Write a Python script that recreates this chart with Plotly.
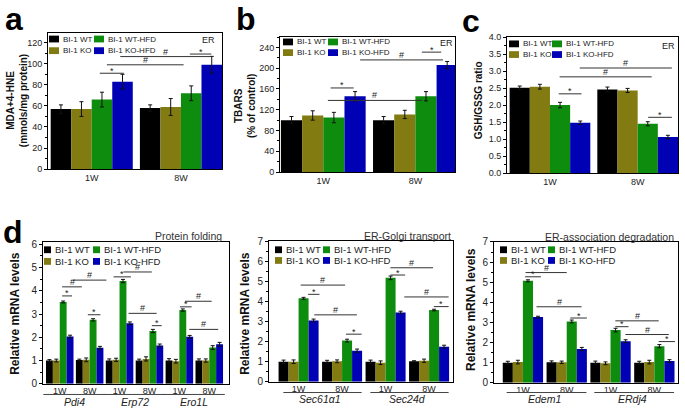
import plotly.graph_objects as go

W, H = 685, 416
FONT = "Arial, Liberation Sans, sans-serif"
SERIES = ["BI-1 WT", "BI-1 KO", "BI-1 WT-HFD", "BI-1 KO-HFD"]
COLORS = ["#000000", "#817b12", "#0d8c0d", "#0000b5"]

# ---------------- data ----------------
# Panel a: MDA+4-HNE (mmols/mg protein)
A_LABELS = ["1W", "8W"]
A_WT = [57, 58];      A_WT_ERR = [4, 3]
A_KO = [57, 59];      A_KO_ERR = [7, 8]
A_WTHFD = [66, 72];   A_WTHFD_ERR = [7, 7]
A_KOHFD = [83, 99];   A_KOHFD_ERR = [7, 8]

# Panel b: TBARS (% of control)
B_LABELS = ["1W", "8W"]
B_WT = [100, 100];    B_WT_ERR = [7, 7]
B_KO = [109, 111];    B_KO_ERR = [9, 8]
B_WTHFD = [105, 146]; B_WTHFD_ERR = [10, 9]
B_KOHFD = [146, 206]; B_KOHFD_ERR = [9, 7]

# Panel c: GSH/GSSG ratio
C_LABELS = ["1W", "8W"]
C_WT = [2.51, 2.46];    C_WT_ERR = [0.05, 0.07]
C_KO = [2.54, 2.43];    C_KO_ERR = [0.07, 0.06]
C_WTHFD = [2.00, 1.45]; C_WTHFD_ERR = [0.08, 0.06]
C_KOHFD = [1.48, 1.06]; C_KOHFD_ERR = [0.05, 0.05]

# Panel d: Protein folding (Pdi4, Erp72, Ero1L)
D_LABELS = ["1W", "8W", "1W", "8W", "1W", "8W"]
D_GENES = ["Pdi4", "Erp72", "Ero1L"]
D_WT = [1.00, 1.02, 1.00, 1.00, 1.00, 1.00]
D_WT_ERR = [0.04, 0.04, 0.07, 0.06, 0.08, 0.07]
D_KO = [1.00, 1.03, 1.03, 1.07, 0.97, 1.00]
D_KO_ERR = [0.06, 0.08, 0.07, 0.09, 0.08, 0.07]
D_WTHFD = [3.52, 2.75, 4.42, 2.27, 3.17, 1.56]
D_WTHFD_ERR = [0.04, 0.05, 0.07, 0.07, 0.05, 0.08]
D_KOHFD = [2.03, 1.55, 2.60, 1.65, 2.02, 1.70]
D_KOHFD_ERR = [0.06, 0.06, 0.06, 0.06, 0.06, 0.08]

# Panel e: ER-Golgi transport (Sec61a1, Sec24d)
E_LABELS = ["1W", "8W", "1W", "8W"]
E_GENES = ["Sec61α1", "Sec24d"]
E_WT = [1.00, 1.00, 1.00, 1.02];    E_WT_ERR = [0.08, 0.07, 0.08, 0.03]
E_KO = [1.00, 1.02, 0.95, 1.05];    E_KO_ERR = [0.09, 0.07, 0.09, 0.08]
E_WTHFD = [4.15, 2.05, 5.17, 3.57]; E_WTHFD_ERR = [0.05, 0.07, 0.09, 0.04]
E_KOHFD = [3.05, 1.55, 3.45, 1.75]; E_KOHFD_ERR = [0.07, 0.08, 0.06, 0.07]

# Panel f: ER-association degradation (Edem1, ERdj4)
F_LABELS = ["1W", "8W", "1W", "8W"]
F_GENES = ["Edem1", "ERdj4"]
F_WT = [1.00, 1.02, 1.00, 1.00];    F_WT_ERR = [0.07, 0.07, 0.08, 0.07]
F_KO = [1.03, 1.02, 0.97, 1.03];    F_KO_ERR = [0.09, 0.06, 0.07, 0.09]
F_WTHFD = [5.07, 3.05, 2.62, 1.82]; F_WTHFD_ERR = [0.05, 0.07, 0.09, 0.08]
F_KOHFD = [3.27, 1.68, 2.07, 1.08]; F_KOHFD_ERR = [0.04, 0.08, 0.07, 0.07]

# significance marks: (symbol, x-start, x-end, height) in category units / data units
A_SIG = [("*", 0.09, 0.36, 91), ("#", 0.17, 1.03, 99), ("#", 0.32, 1.33, 106.8), ("*", 1.10, 1.34, 109.2)]
B_SIG = [("*", 0.08, 0.33, 162), ("#", 0.05, 1.07, 138), ("#", 0.40, 1.30, 216), ("*", 1.07, 1.28, 231)]
C_SIG = [("*", 0.10, 0.36, 2.33), ("#", 0.11, 1.16, 2.83), ("#", 0.34, 1.39, 3.09), ("*", 1.12, 1.39, 1.64)]
D_SIG = [("*", 0.08, 0.41, 3.78), ("#", 0.08, 0.74, 4.17), ("#", 0.44, 1.56, 4.46), ("*", 0.94, 1.36, 2.97),
         ("*", 1.80, 2.38, 4.60), ("#", 2.13, 3.08, 4.81), ("#", 2.30, 3.24, 3.03), ("*", 3.08, 3.41, 2.50),
         ("*", 4.02, 4.41, 3.31), ("#", 4.19, 5.08, 3.55), ("#", 4.33, 5.30, 2.34)]
E_SIG = [("*", 0.22, 0.48, 4.35), ("#", 0.05, 1.07, 4.81), ("#", 0.36, 1.34, 3.33), ("*", 1.09, 1.45, 2.37),
         ("*", 2.11, 2.45, 5.31), ("#", 2.11, 3.09, 5.67), ("#", 2.43, 3.45, 4.22), ("*", 3.11, 3.45, 3.74)]
F_SIG = [("*", 0.05, 0.41, 5.27), ("#", 0.06, 1.00, 5.48), ("#", 0.31, 1.34, 3.78), ("*", 1.08, 1.46, 3.22),
         ("*", 2.11, 2.41, 2.79), ("#", 2.11, 3.10, 3.08), ("#", 2.34, 3.33, 2.40), ("*", 3.10, 3.47, 2.05)]


def pxx(p):
    return p / W


def pxy(p):
    return 1 - p / H


panels = [
    dict(n=1, frame=(48, 222, 28, 168), xr=[-0.49, 1.46], yr=[0, 129], dt=20, fmt="",
         series=[(A_WT, A_WT_ERR), (A_KO, A_KO_ERR), (A_WTHFD, A_WTHFD_ERR), (A_KOHFD, A_KOHFD_ERR)],
         labels=A_LABELS, sig=A_SIG, tf=9, xtf=9, xso=0,
         leg=dict(c1=49, c2=94, r1=34, r2=46, sw=10, sh=7, fs=8),
         er=(208, 35), letter=("a", 14, 13),
         ytitle="<b>MDA+4-HNE</b><br><b>(mmols/mg protein)</b>", ytpos=(17, 98), ytfs=10),
    dict(n=2, frame=(280, 455, 32, 171), xr=[-0.47, 1.43], yr=[0, 260], dt=40, fmt="",
         series=[(B_WT, B_WT_ERR), (B_KO, B_KO_ERR), (B_WTHFD, B_WTHFD_ERR), (B_KOHFD, B_KOHFD_ERR)],
         labels=B_LABELS, sig=B_SIG, tf=9, xtf=9, xso=0,
         leg=dict(c1=283, c2=328, r1=37, r2=48, sw=10, sh=7, fs=8),
         er=(447, 38), letter=("b", 246, 13),
         ytitle="<b>TBARS</b><br><b>(% of control)</b>", ytpos=(245, 103), ytfs=10),
    dict(n=3, frame=(507, 678, 32, 172), xr=[-0.49, 1.46], yr=[0, 4], dt=0.5, fmt=".1f",
         series=[(C_WT, C_WT_ERR), (C_KO, C_KO_ERR), (C_WTHFD, C_WTHFD_ERR), (C_KOHFD, C_KOHFD_ERR)],
         labels=C_LABELS, sig=C_SIG, tf=9, xtf=9, xso=0,
         leg=dict(c1=509, c2=552, r1=39, r2=50, sw=10, sh=7, fs=8),
         er=(668, 41), letter=("c", 471, 15),
         ytitle="<b>GSH/GSSG ratio</b>", ytpos=(478, 97), ytfs=10),
    dict(n=4, frame=(43, 229, 243, 389), xr=[-0.56, 5.66], yr=[0, 6.1], dt=1, fmt="",
         series=[(D_WT, D_WT_ERR), (D_KO, D_KO_ERR), (D_WTHFD, D_WTHFD_ERR), (D_KOHFD, D_KOHFD_ERR)],
         labels=D_LABELS, sig=D_SIG, tf=10, xtf=9, xso=-2, genes=D_GENES, gl=(-0.55, 1.52), gy=(400, 408),
         leg=dict(c1=44, c2=93, r1=251, r2=263, sw=7, sh=7, fs=9.5),
         title=("Protein folding", 224, 237), letter=("d", 13, 233),
         ytitle="<b>Relative mRNA levels</b>", ytpos=(15, 317), ytfs=12),
    dict(n=5, frame=(269, 453, 242, 387), xr=[-0.68, 3.55], yr=[0, 7], dt=1, fmt="",
         series=[(E_WT, E_WT_ERR), (E_KO, E_KO_ERR), (E_WTHFD, E_WTHFD_ERR), (E_KOHFD, E_KOHFD_ERR)],
         labels=E_LABELS, sig=E_SIG, tf=10, xtf=9, xso=-2, genes=E_GENES, gl=(-0.35, 1.45), gy=(398, 405),
         leg=dict(c1=275, c2=323, r1=251, r2=262, sw=7, sh=7, fs=9.5),
         title=("ER-Golgi transport", 453, 237),
         ytitle="<b>Relative mRNA levels</b>", ytpos=(245, 317), ytfs=12),
    dict(n=6, frame=(494, 678, 243, 388), xr=[-0.66, 3.54], yr=[0, 7], dt=1, fmt="",
         series=[(F_WT, F_WT_ERR), (F_KO, F_KO_ERR), (F_WTHFD, F_WTHFD_ERR), (F_KOHFD, F_KOHFD_ERR)],
         labels=F_LABELS, sig=F_SIG, tf=10, xtf=9, xso=-2, genes=F_GENES, gl=(-0.37, 1.45), gy=(398, 405),
         leg=dict(c1=500, c2=548, r1=251, r2=262, sw=7, sh=7, fs=9.5),
         title=("ER-association degradation", 676, 238),
         ytitle="<b>Relative mRNA levels</b>", ytpos=(471, 313), ytfs=12),
]

fig = go.Figure()
shapes = []
annotations = []
layout_axes = {}

for p in panels:
    n = p["n"]
    xa, ya = f"x{n}", f"y{n}"
    xs = list(range(len(p["labels"])))
    for i, (vals, errs) in enumerate(p["series"]):
        fig.add_trace(go.Bar(
            x=xs, y=vals, name=SERIES[i], xaxis=xa, yaxis=ya,
            marker=dict(color=COLORS[i], line=dict(width=0)),
            error_y=dict(type="data", array=errs, color="#111111", thickness=1, width=2),
            showlegend=False,
        ))
    l, r, t, b = p["frame"]
    xk = "xaxis" if n == 1 else f"xaxis{n}"
    yk = "yaxis" if n == 1 else f"yaxis{n}"
    layout_axes[xk] = dict(
        domain=[pxx(l), pxx(r)], anchor=ya, range=p["xr"], tickvals=xs, ticktext=p["labels"],
        showline=True, mirror=True, linecolor="black", linewidth=1, ticks="",
        ticklabelstandoff=p["xso"],
        showgrid=False, zeroline=False, tickfont=dict(size=p["xtf"], color="#222"),
    )
    layout_axes[yk] = dict(
        domain=[pxy(b), pxy(t)], anchor=xa, range=p["yr"], dtick=p["dt"], tick0=0,
        tickformat=p["fmt"], showline=True, mirror=True, linecolor="black", linewidth=1,
        ticks="outside", ticklen=3, tickcolor="black",
        minor=dict(dtick=p["dt"] / 2, ticks="outside", ticklen=2, tickcolor="black"),
        showgrid=False, zeroline=False, tickfont=dict(size=p["tf"], color="#222"),
    )

    # significance lines
    for sym, x0, x1, yv in p["sig"]:
        shapes.append(dict(type="line", xref=xa, yref=ya, x0=x0, x1=x1, y0=yv, y1=yv,
                           line=dict(color="#333", width=1)))
        annotations.append(dict(text=sym, xref=xa, yref=ya, x=(x0 + x1) / 2, y=yv,
                                xanchor="center", yanchor="bottom", showarrow=False,
                                yshift=-4.5 if sym == "*" else -2,
                                font=dict(size=9, color="#222")))

    # manual legend (2x2)
    lg = p["leg"]
    cells = [(0, lg["c1"], lg["r1"]), (2, lg["c2"], lg["r1"]), (1, lg["c1"], lg["r2"]), (3, lg["c2"], lg["r2"])]
    for si, cx, cy in cells:
        shapes.append(dict(type="rect", xref="paper", yref="paper",
                           x0=pxx(cx), x1=pxx(cx + lg["sw"]),
                           y0=pxy(cy + lg["sh"] / 2), y1=pxy(cy - lg["sh"] / 2),
                           fillcolor=COLORS[si], line=dict(width=0)))
        annotations.append(dict(text=SERIES[si], xref="paper", yref="paper",
                                x=pxx(cx + lg["sw"] + 1.5), y=pxy(cy), xanchor="left", yanchor="middle",
                                showarrow=False, font=dict(size=lg["fs"], color="#222")))

    # y-axis title
    annotations.append(dict(text=p["ytitle"], xref="paper", yref="paper",
                            x=pxx(p["ytpos"][0]), y=pxy(p["ytpos"][1]), textangle=-90,
                            xanchor="center", yanchor="middle", showarrow=False,
                            font=dict(size=p["ytfs"], color="#111")))
    if "er" in p:
        annotations.append(dict(text="ER", xref="paper", yref="paper",
                                x=pxx(p["er"][0]), y=pxy(p["er"][1]), xanchor="center", yanchor="middle",
                                showarrow=False, font=dict(size=9, color="#222")))
    if "letter" in p:
        s, lx, ly = p["letter"]
        annotations.append(dict(text=f"<b>{s}</b>", xref="paper", yref="paper",
                                x=pxx(lx), y=pxy(ly), xanchor="center", yanchor="middle",
                                showarrow=False, font=dict(size=32, color="black")))
    if "title" in p:
        s, tx, ty = p["title"]
        annotations.append(dict(text=s, xref="paper", yref="paper",
                                x=pxx(tx), y=pxy(ty), xanchor="right", yanchor="middle",
                                showarrow=False, font=dict(size=10.5, color="#333")))
    if "genes" in p:
        g0, g1 = p["gl"]
        ly_line, ly_txt = p["gy"]
        for k, g in enumerate(p["genes"]):
            shapes.append(dict(type="line", xref=xa, yref="paper", x0=2 * k + g0, x1=2 * k + g1,
                               y0=pxy(ly_line), y1=pxy(ly_line), line=dict(color="#444", width=1)))
            annotations.append(dict(text=f"<i>{g}</i>", xref=xa, yref="paper",
                                    x=2 * k + 0.5, y=pxy(ly_txt), xanchor="center", yanchor="middle",
                                    showarrow=False, font=dict(size=10.5, color="#222")))

fig.update_layout(
    width=W, height=H, margin=dict(l=0, r=0, t=0, b=0),
    paper_bgcolor="white", plot_bgcolor="white",
    font=dict(family=FONT, color="#222"),
    barmode="group", bargap=0.08, bargroupgap=0,
    shapes=shapes, annotations=annotations, showlegend=False,
    **layout_axes,
)

fig.write_html("out.html", config={"displayModeBar": False},
               post_script="document.body.style.margin='0';document.body.style.overflow='hidden';")
